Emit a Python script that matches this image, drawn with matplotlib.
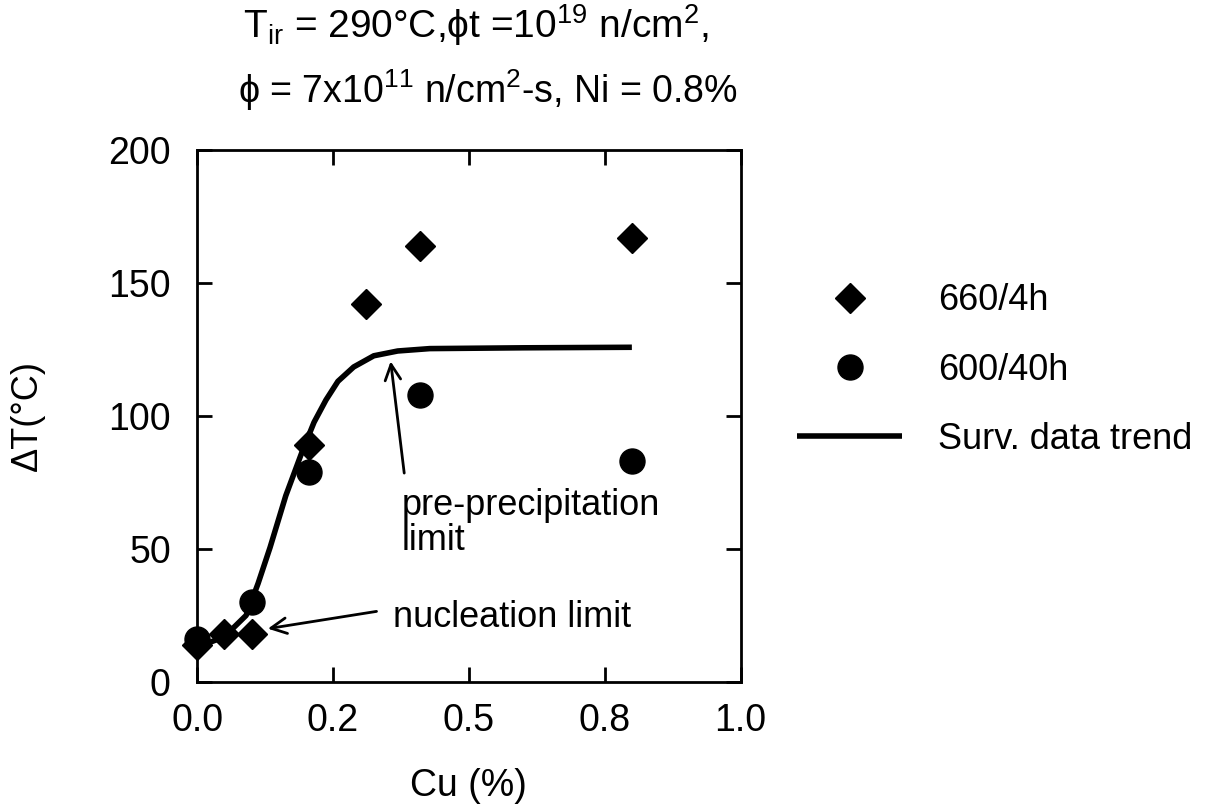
import matplotlib
matplotlib.use("Agg")
import matplotlib.pyplot as plt

plt.rcParams['font.family'] = ['Liberation Sans', 'DejaVu Sans']
plt.rcParams['mathtext.fontset'] = 'custom'
plt.rcParams['mathtext.rm'] = 'Liberation Sans'
plt.rcParams['mathtext.it'] = 'Liberation Sans:italic'

# 660/4h anneal (diamonds)
cu_660 = [0.0, 0.05, 0.10, 0.205, 0.31, 0.41, 0.80]
dt_660 = [14, 18, 18, 89, 142, 164, 167]

# 600/40h anneal (circles)
cu_600 = [0.0, 0.10, 0.205, 0.41, 0.80]
dt_600 = [16, 30, 79, 108, 83]

# surveillance data trend
cu_trend = [0.0, 0.05, 0.09, 0.112, 0.134, 0.163, 0.193, 0.215, 0.237,
            0.259, 0.288, 0.325, 0.369, 0.428, 0.60, 0.80]
dt_trend = [13, 17, 25, 37, 50.5, 70, 86.5, 97.6, 106,
            113, 118.4, 122.6, 124.4, 125.3, 125.6, 125.8]

xticks = [0.0, 0.25, 0.5, 0.75, 1.0]
xticklabels = ["0.0", "0.2", "0.5", "0.8", "1.0"]
yticks = [0, 50, 100, 150, 200]

fig = plt.figure(figsize=(12.1, 8.06), dpi=100)
ax = fig.add_axes([0.163, 0.154, 0.449, 0.66])

ax.plot(cu_trend, dt_trend, color='black', lw=4, solid_capstyle='butt',
        label='Surv. data trend', zorder=2)
ax.plot(cu_660, dt_660, 'D', color='black', ms=15, label='660/4h', zorder=3)
ax.plot(cu_600, dt_600, 'o', color='black', ms=18, label='600/40h', zorder=3)
for ln in ax.lines:
    ln.set_clip_on(False)

ax.set_xlim(0, 1.0)
ax.set_ylim(0, 200)
ax.set_xticks(xticks)
ax.set_xticklabels(xticklabels)
ax.set_yticks(yticks)
ax.tick_params(direction='in', length=11, width=2, labelsize=27,
               top=True, right=True)
ax.tick_params(axis='x', pad=15)
ax.tick_params(axis='y', pad=19)
for s in ax.spines.values():
    s.set_linewidth(2)

ax.set_xlabel("Cu (%)", fontsize=27, va='center')
ax.xaxis.set_label_coords(0.5, -0.195)
ax.set_ylabel("ΔT(°C)", fontsize=26, va='center')
ax.yaxis.set_label_coords(-0.313, 0.5)

# annotations: arrows and text placed separately
ax.annotate("", xy=(0.356, 120.5), xytext=(0.381, 78.5),
            arrowprops=dict(arrowstyle='->', color='black', lw=2,
                            mutation_scale=28, shrinkA=0, shrinkB=0))
ax.text(0.376, 73, "pre-precipitation\nlimit", fontsize=26,
        va='top', ha='left', linespacing=1.0)
ax.annotate("", xy=(0.13, 20), xytext=(0.33, 26.5),
            arrowprops=dict(arrowstyle='->', color='black', lw=2,
                            mutation_scale=28, shrinkA=0, shrinkB=0))
ax.text(0.361, 20.6, "nucleation limit", fontsize=26,
        va='baseline', ha='left')

# title lines
fig.text(0.393, 0.953, r"T$_{\mathrm{ir}}$ = 290°C,ϕt =10$^{19}$ n/cm$^{2}$,",
         fontsize=28, ha='center', va='baseline')
fig.text(0.403, 0.872, r"ϕ = 7x10$^{11}$ n/cm$^{2}$-s, Ni = 0.8%",
         fontsize=27, ha='center', va='baseline')

handles, labels = ax.get_legend_handles_labels()
order = [1, 2, 0]
fig.legend([handles[i] for i in order], [labels[i] for i in order],
           loc='upper left', bbox_to_anchor=(0.644, 0.671), frameon=False,
           fontsize=26, handlelength=2.9, handletextpad=1.0,
           labelspacing=0.95, borderpad=0)

fig.savefig("out.png", dpi=100)
